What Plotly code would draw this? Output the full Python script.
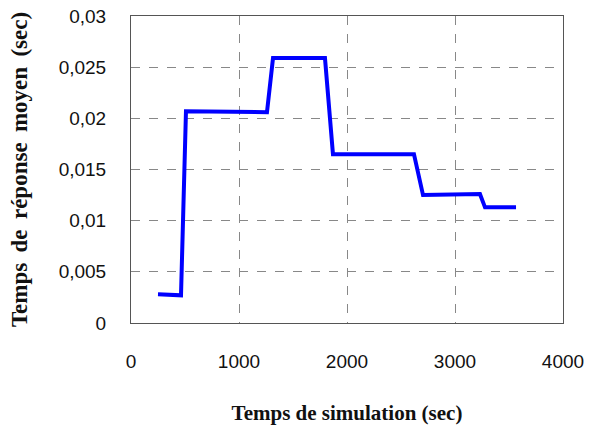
import plotly.graph_objects as go

# Data
sim_time = [250, 463, 509, 1259, 1315, 1796, 1870, 2620, 2704, 3231, 3278, 3565]
resp_time = [0.0028, 0.0027, 0.0207, 0.0206, 0.0259, 0.0259, 0.0165, 0.0165, 0.0125, 0.0126, 0.0113, 0.0113]

x_ticks = [0, 1000, 2000, 3000, 4000]
y_ticks = [0, 0.005, 0.01, 0.015, 0.02, 0.025, 0.03]
y_labels = ["0", "0,005", "0,01", "0,015", "0,02", "0,025", "0,03"]

fig = go.Figure()
fig.add_trace(go.Scatter(
    x=sim_time, y=resp_time, mode="lines",
    line=dict(color="#0000ff", width=4),
    showlegend=False,
))

tick_font = dict(family="Liberation Sans, Arial, sans-serif", size=19, color="#111")
xtitle_font = dict(family="Liberation Serif, Times New Roman, serif", size=21, color="#111")
ytitle_font = dict(family="Liberation Serif, Times New Roman, serif", size=23, color="#111")

ytitle = "Temps de réponse moyen (sec)".replace(" ", " \u2009")

fig.update_layout(
    width=595, height=426,
    margin=dict(l=131, r=32, t=16, b=103),
    paper_bgcolor="white", plot_bgcolor="white",
    separators=", ",
)
fig.update_xaxes(
    range=[0, 4000], tickvals=x_ticks, ticktext=[str(v) for v in x_ticks],
    tickfont=tick_font, ticks="", ticklabelstandoff=21, ticklabeloverflow="allow",
    showgrid=True, gridcolor="#888", griddash="dash", gridwidth=1,
    showline=True, linecolor="#555", linewidth=1, mirror=True,
    zeroline=False, automargin=False,
    title=dict(text="<b>Temps de simulation (sec)</b>", font=xtitle_font, standoff=34),
)
fig.update_yaxes(
    range=[0, 0.03], tickvals=y_ticks, ticktext=y_labels,
    tickfont=tick_font, ticks="", ticklabelstandoff=20, ticklabeloverflow="allow",
    showgrid=True, gridcolor="#888", griddash="dash", gridwidth=1,
    showline=True, linecolor="#555", linewidth=1, mirror=True,
    zeroline=False, automargin=False,
    title=dict(text="<b>" + ytitle + "</b>", font=ytitle_font, standoff=24),
)

# remove the default 8px page margin so the figure fills the window exactly
fig.write_html(
    "out.html",
    config={"displayModeBar": False},
    post_script="document.body.style.margin='0';document.body.style.overflow='hidden';",
)
